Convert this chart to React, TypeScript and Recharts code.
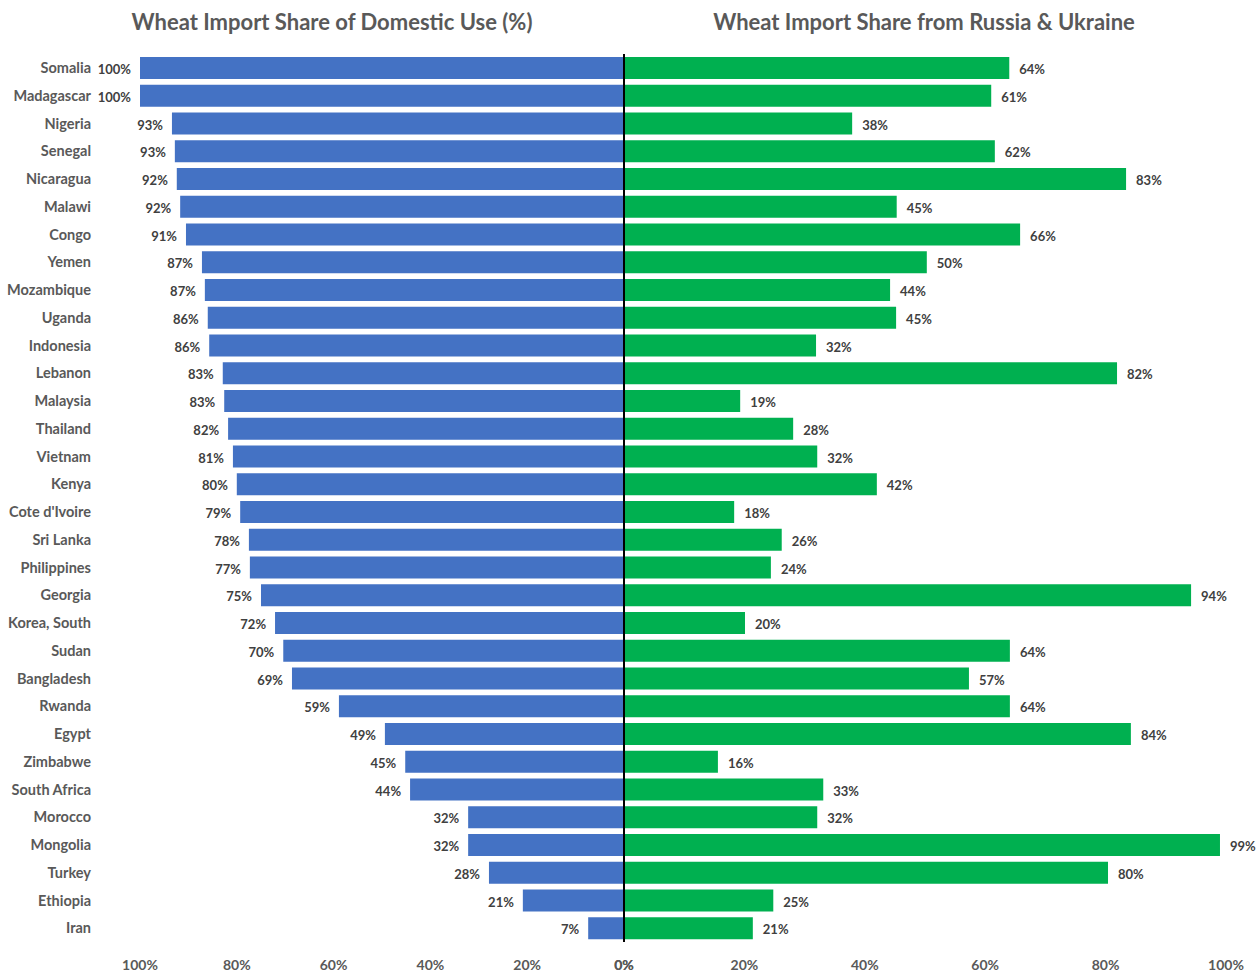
import React from 'react';
import { BarChart, Bar, XAxis, YAxis, LabelList, ReferenceLine } from 'recharts';

const countries = [
  'Somalia', 'Madagascar', 'Nigeria', 'Senegal', 'Nicaragua', 'Malawi', 'Congo', 'Yemen',
  'Mozambique', 'Uganda', 'Indonesia', 'Lebanon', 'Malaysia', 'Thailand', 'Vietnam', 'Kenya',
  "Cote d'Ivoire", 'Sri Lanka', 'Philippines', 'Georgia', 'Korea, South', 'Sudan', 'Bangladesh',
  'Rwanda', 'Egypt', 'Zimbabwe', 'South Africa', 'Morocco', 'Mongolia', 'Turkey', 'Ethiopia', 'Iran',
];

// share of domestic use that is imported (%)
const domesticUseShare = [
  100, 100, 93.4, 92.8, 92.4, 91.7, 90.5, 87.2, 86.6, 86.0, 85.7, 82.9, 82.6, 81.8, 80.8, 80.0,
  79.3, 77.5, 77.3, 75.0, 72.1, 70.4, 68.6, 58.9, 49.4, 45.2, 44.2, 32.2, 32.2, 27.9, 20.9, 7.4,
];

// share of wheat imports coming from Russia & Ukraine (%)
const russiaUkraineShare = [
  64, 61, 37.9, 61.6, 83.4, 45.3, 65.8, 50.3, 44.2, 45.2, 31.9, 81.9, 19.3, 28.1, 32.1, 42.0,
  18.3, 26.2, 24.4, 94.2, 20.1, 64.1, 57.3, 64.1, 84.2, 15.6, 33.1, 32.1, 99.0, 80.4, 24.8, 21.4,
];

const axisTicks = [0, 20, 40, 60, 80, 100];

const data = countries.map((country, i) => ({
  country,
  domestic: domesticUseShare[i],
  russia: russiaUkraineShare[i],
}));

const FONT = 'Lato, "Open Sans", sans-serif';
const GREY = '#595959';
const DARK = '#404040';

const pct = (v: number) => `${Math.round(v)}%`;

const LeftLabel = (props: any) => {
  const { x, y, width, height, value } = props;
  const left = Math.min(x, x + width);
  return (
    <text x={left - 9} y={y + height / 2 + 1} textAnchor="end" dominantBaseline="central"
      fill={DARK} fontSize={13} fontWeight={700} fontFamily={FONT}>
      {pct(value)}
    </text>
  );
};

const RightLabel = (props: any) => {
  const { x, y, width, height, value } = props;
  const right = Math.max(x, x + width);
  return (
    <text x={right + 10} y={y + height / 2 + 1} textAnchor="start" dominantBaseline="central"
      fill={DARK} fontSize={13} fontWeight={700} fontFamily={FONT}>
      {pct(value)}
    </text>
  );
};

const tickStyle = { fill: GREY, fontSize: 14, fontWeight: 700, fontFamily: FONT };

export default function App() {
  return (
    <div style={{ position: 'absolute', left: 0, top: 0, width: 1259, height: 975, background: '#fff', fontFamily: FONT }}>
      <div style={{ position: 'absolute', left: 82, width: 500, top: 8, textAlign: 'center', color: GREY, fontSize: 22, fontWeight: 700, whiteSpace: 'nowrap' }}>
        Wheat Import Share of Domestic Use (%)
      </div>
      <div style={{ position: 'absolute', left: 674, width: 500, top: 8, textAlign: 'center', color: GREY, fontSize: 22, fontWeight: 700, whiteSpace: 'nowrap' }}>
        Wheat Import Share from Russia &amp; Ukraine
      </div>

      <div style={{ position: 'absolute', left: 0, top: 0 }}>
        <BarChart width={1259} height={975} data={data} layout="vertical"
          margin={{ top: 54, right: 635, left: 0, bottom: 0 }} barCategoryGap={3}>
          <XAxis type="number" domain={[0, 100]} ticks={axisTicks} reversed height={33}
            axisLine={false} tickLine={false} tickMargin={12} tick={tickStyle}
            tickFormatter={(v) => `${v}%`} />
          <YAxis type="category" dataKey="country" width={140} axisLine={false} tickLine={false}
            tickMargin={43} interval={0}
            tick={{ fill: GREY, fontSize: 14.5, fontWeight: 700, fontFamily: FONT }} />
          <Bar dataKey="domestic" fill="#4472C4" barSize={22} isAnimationActive={false}>
            <LabelList dataKey="domestic" content={LeftLabel} />
          </Bar>
        </BarChart>
      </div>

      <div style={{ position: 'absolute', left: 0, top: 0 }}>
        <BarChart width={1259} height={975} data={data} layout="vertical"
          margin={{ top: 54, right: 33, left: 624, bottom: 0 }} barCategoryGap={3}>
          <XAxis type="number" domain={[0, 100]} ticks={axisTicks} height={33}
            axisLine={false} tickLine={false} tickMargin={12} tick={tickStyle}
            tickFormatter={(v) => `${v}%`} />
          <YAxis type="category" dataKey="country" hide />
          <Bar dataKey="russia" fill="#00B050" barSize={22} isAnimationActive={false}>
            <LabelList dataKey="russia" content={RightLabel} />
          </Bar>
          <ReferenceLine x={0} stroke="#000" strokeWidth={2} />
        </BarChart>
      </div>
    </div>
  );
}
